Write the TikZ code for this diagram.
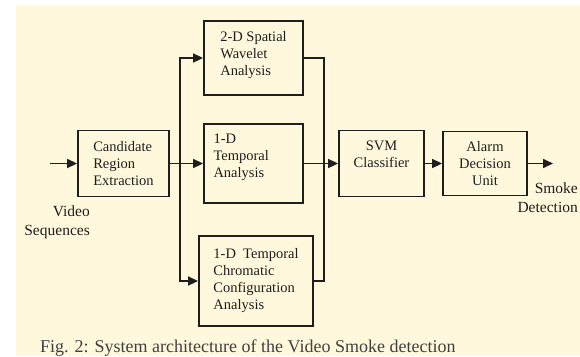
\documentclass[tikz,border=0pt]{standalone}
\usepackage{fontspec}
\setmainfont{Liberation Serif}
\usetikzlibrary{arrows.meta}

\definecolor{paper}{RGB}{255,248,220}
\definecolor{ink}{RGB}{30,30,30}

\tikzstyle{block}=[rectangle,
                   draw=ink,
                   line width=1.8pt,
                   inner sep=0pt,
                   align=left,
                   text=ink,
                   font=\fontsize{14.5}{17}\selectfont]
\tikzstyle{wire}=[draw=ink, line width=1.6pt]
\tikzstyle{tag}=[align=right,
                 inner sep=0pt,
                 text=ink,
                 font=\fontsize{15.5}{19}\selectfont]

\begin{document}
\begin{tikzpicture}[x=1pt,y=-1pt,>={Triangle[length=10pt,width=9pt]}]
  \fill[white] (0,0) rectangle (580,356);
  \fill[paper] (16,6) rectangle (580,356);
  \useasboundingbox (0,0) rectangle (580,356);

  % processing stages
  \node (cand) [block, minimum width=91, minimum height=66] at (123.5,163.5) {Candidate\\Region\\Extraction};
  \node (spat) [block, minimum width=99, minimum height=74, text depth=10pt] at (253.5,58) {2-D Spatial\\Wavelet\\Analysis};
  \node (temp) [block, minimum width=99, minimum height=79, text width=80, text depth=50pt] at (253.5,163.5) {1-D\\Temporal\\Analysis};
  \node (chrom) [block, minimum width=114, minimum height=90] at (256,281) {1-D\ \ Temporal\\Chromatic\\Configuration\\Analysis};
  \node (svm) [block, minimum width=85, minimum height=66, align=center, text depth=19pt] at (381.5,163.5) {SVM\\Classifier};
  \node (alarm) [block, minimum width=84, minimum height=64, align=center] at (485,163.5) {Alarm\\Decision\\Unit};

  % free ends and branch points of the wiring
  \coordinate (src) at (50,163.5);
  \coordinate (dst) at (553,163.5);
  \coordinate (fork) at (180,163.5);
  \coordinate (join) at (324,163.5);

  \path[->]
      (src) edge[wire] (cand)
      (cand) edge[wire] (temp)
      (temp) edge[wire] (svm)
      (svm) edge[wire] (alarm)
      (alarm) edge[wire] (dst);
  \draw[->, wire] (fork) |- (spat);
  \draw[->, wire] (fork) |- (chrom);
  \draw[wire] (spat) -| (join) |- (chrom);

  \node (vidin) [tag, anchor=north east] at (90,205.5) {Video\\Sequences};
  \node (smoke) [tag, anchor=north east] at (578,183) {Smoke\\Detection};

  \node (caption) [anchor=base west, inner sep=0pt, text=ink!85, font=\fontsize{18}{22}\selectfont] at (40,352) {Fig. 2: System architecture of the Video Smoke detection};
\end{tikzpicture}
\end{document}
